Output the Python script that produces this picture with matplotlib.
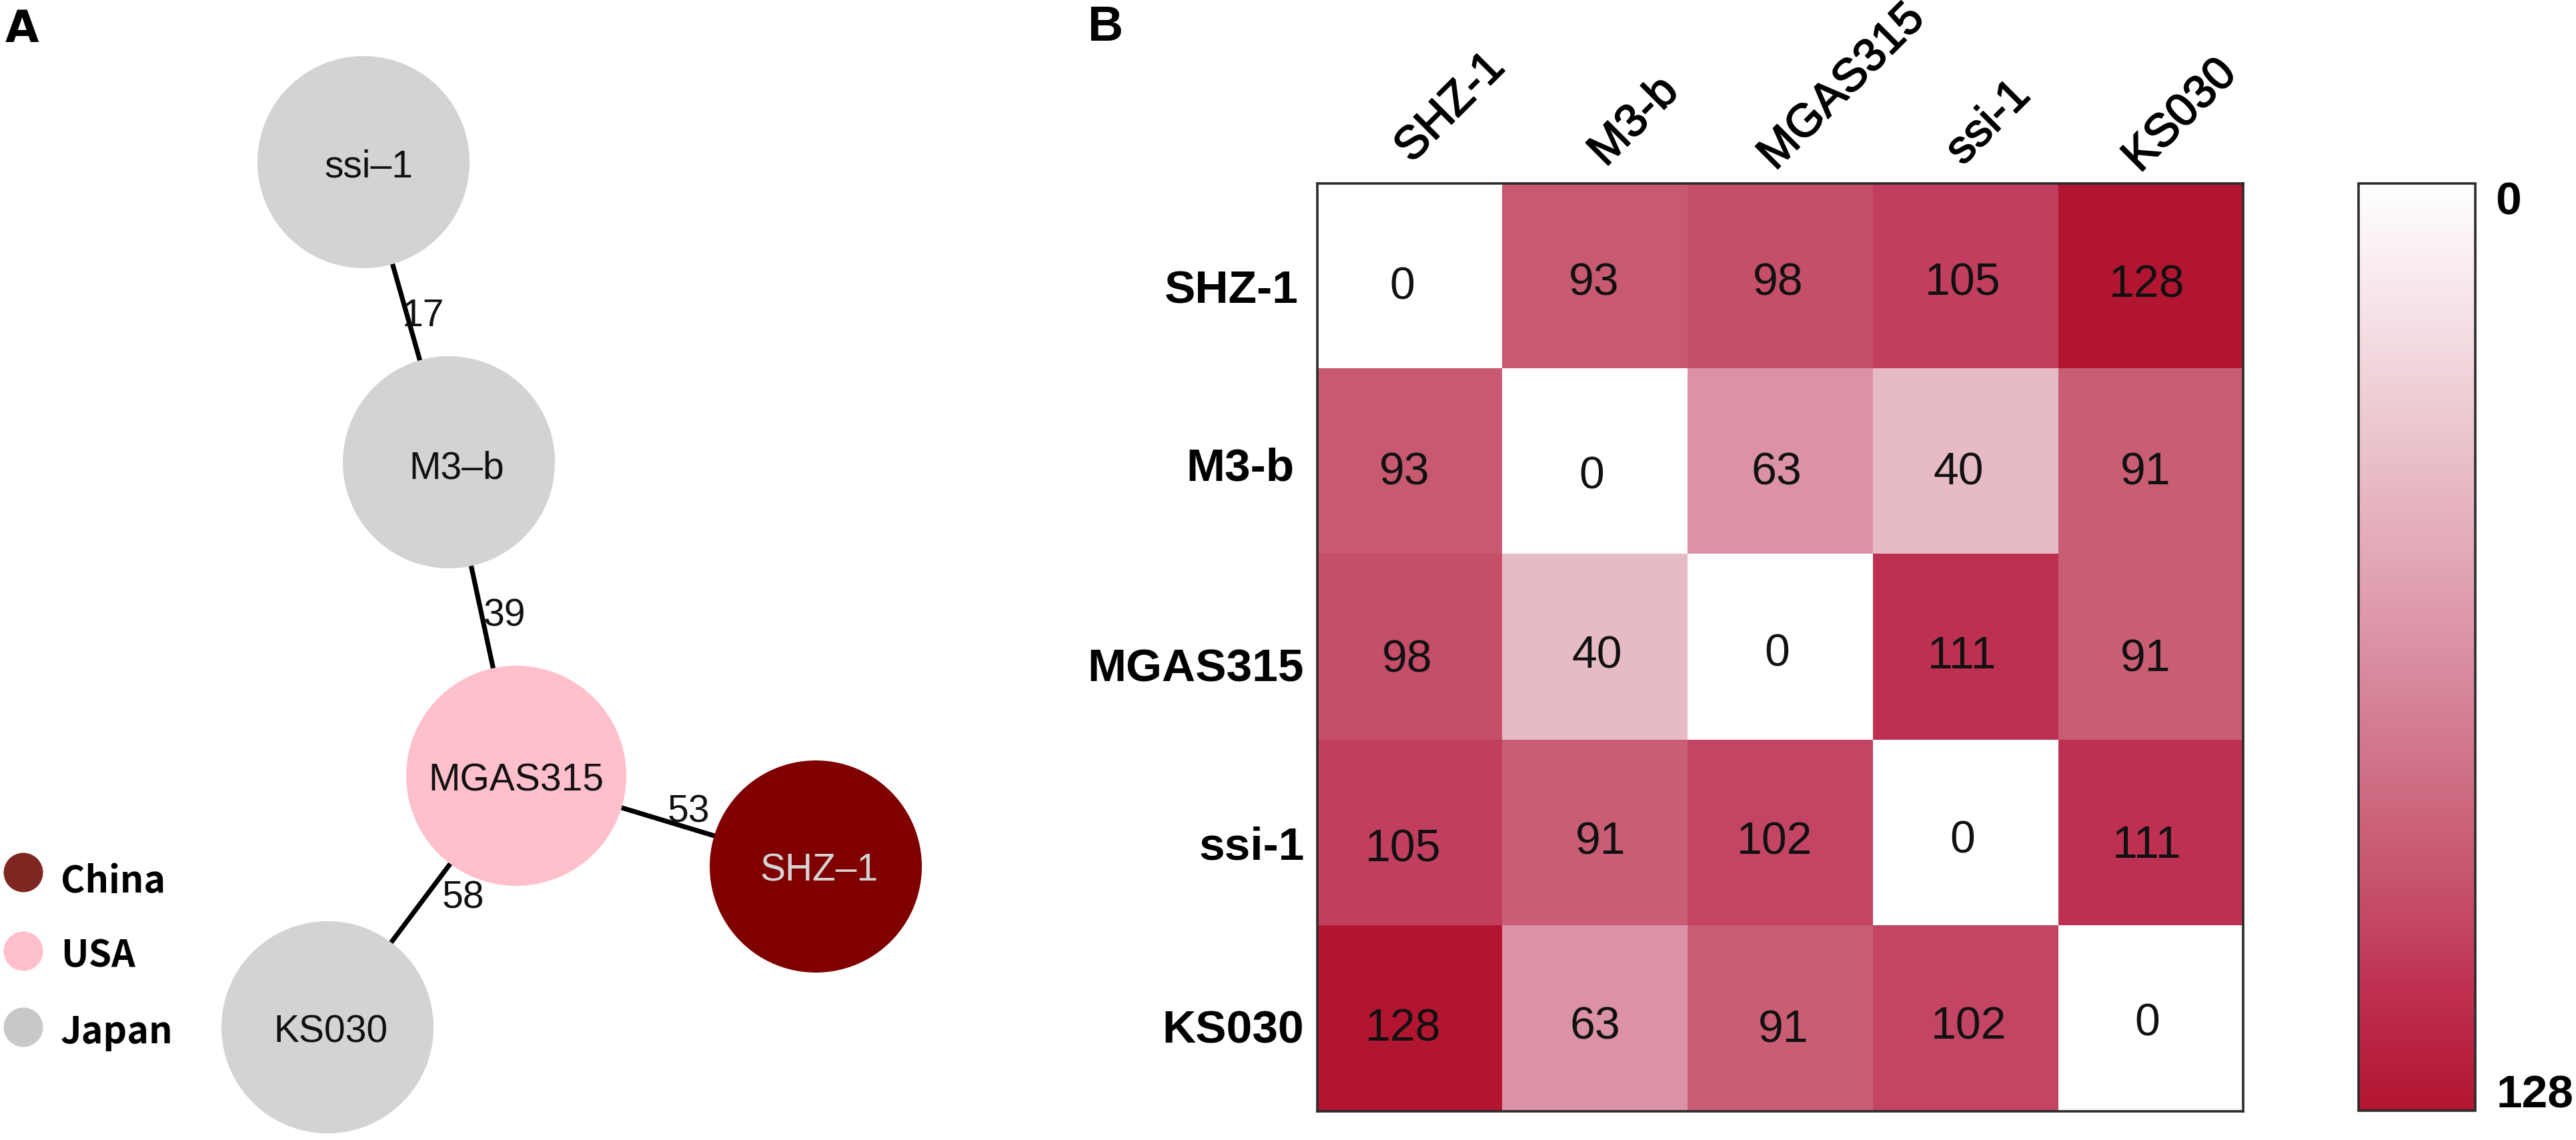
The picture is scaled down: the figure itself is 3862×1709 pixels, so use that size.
import matplotlib

matplotlib.use("Agg")

import matplotlib.patheffects as pe
import matplotlib.pyplot as plt
import numpy as np
from matplotlib.cm import ScalarMappable
from matplotlib.colors import LinearSegmentedColormap, Normalize
from matplotlib.patches import Circle

W, H = 3862, 1709

# panel A: network, node positions in image pixels
NODE_NAMES = ["ssi\u20131", "M3\u2013b", "MGAS315", "SHZ\u20131", "KS030"]
NODE_X = [545, 673, 774, 1223, 491]
NODE_Y = [243, 693, 1163, 1299, 1540]
NODE_R = [159, 159, 165, 159, 159]
NODE_COLORS = ["#d3d3d3", "#d3d3d3", "#ffc0cb", "#800000", "#d3d3d3"]
NODE_TEXT_COLORS = ["#111111", "#111111", "#111111", "#d3d3d3", "#111111"]
NODE_TEXT_DX = [8, 12, 0, 5, 5]
NODE_TEXT_DY = [7, 9, 7, 6, 7]

EDGE_FROM = [0, 1, 2, 2]
EDGE_TO = [1, 2, 3, 4]
EDGE_WEIGHTS = [17, 39, 53, 58]
EDGE_TEXT_DX = [25, 33, 34, 62]
EDGE_TEXT_DY = [6, -5, -14, -5]

LEGEND_NAMES = ["China", "USA", "Japan"]
LEGEND_COLORS = ["#7d2622", "#ffc0cb", "#c8c8c8"]
LEGEND_Y = [1308, 1426, 1540]
LEGEND_TEXT_Y = [1322, 1433, 1548]

# panel B: heatmap
STRAINS = ["SHZ-1", "M3-b", "MGAS315", "ssi-1", "KS030"]
DISTANCES = [
    [0, 93, 98, 105, 128],
    [93, 0, 63, 40, 91],
    [98, 40, 0, 111, 91],
    [105, 91, 102, 0, 111],
    [128, 63, 91, 102, 0],
]
VMIN, VMAX = 0, 128
COLOR_STOPS = [
    (0.0, "#ffffff"),
    (0.3125, "#e8bcc6"),
    (0.49, "#dc93a7"),
    (0.727, "#c85a71"),
    (0.82, "#c24060"),
    (0.867, "#bf3152"),
    (1.0, "#b2152f"),
]

# the numbers were placed by hand in the original, so they sit a bit off centre
CELL_TEXT_DX = [
    [-12, -2, -3, -4, -6],
    [-8, -5, -6, -10, -8],
    [-4, 3, -5, -5, -8],
    [-10, 8, -8, -4, -6],
    [-10, 0, 5, 5, -5],
]
CELL_TEXT_DY = [
    [11, 5, 5, 5, 8],
    [11, 17, 11, 11, 11],
    [14, 8, 5, 8, 13],
    [20, 9, 9, 7, 14],
    [11, 8, 13, 8, 3],
]
CELL_TEXT_SHIFT = 5
ROW_LABEL_DX = [-28, -35, -20, -19, -20]
ROW_LABEL_DY = [22, 10, 33, 22, 19]
COL_LABEL_DX = [61, 59, 93, 35, 45]
COL_LABEL_DY = [113, 92, 144, 90, 101]

SANS = "Liberation Sans"
CJK = "Noto Sans CJK SC"
FRAME_COLOR = "#2b2b2b"


def px_rect(left, top, right, bottom):
    return [left / W, 1 - bottom / H, (right - left) / W, (bottom - top) / H]


def draw_network(ax):
    ax.set_xlim(0, W)
    ax.set_ylim(H, 0)
    ax.axis("off")
    for a, b, weight, dx, dy in zip(EDGE_FROM, EDGE_TO, EDGE_WEIGHTS, EDGE_TEXT_DX, EDGE_TEXT_DY):
        xs = [NODE_X[a], NODE_X[b]]
        ys = [NODE_Y[a], NODE_Y[b]]
        ax.plot(xs, ys, color="black", lw=5.2, zorder=1, solid_capstyle="butt")
        ax.text(
            sum(xs) / 2 + dx, sum(ys) / 2 + dy, str(weight),
            family=SANS, fontsize=41, color="#111111", ha="center", va="center", zorder=3,
        )
    for i, name in enumerate(NODE_NAMES):
        ax.add_patch(Circle((NODE_X[i], NODE_Y[i]), NODE_R[i], color=NODE_COLORS[i], lw=0, zorder=2))
        ax.text(
            NODE_X[i] + NODE_TEXT_DX[i], NODE_Y[i] + NODE_TEXT_DY[i], name,
            family=SANS, fontsize=41, color=NODE_TEXT_COLORS[i], ha="center", va="center", zorder=3,
        )
    for name, color, y, text_y in zip(LEGEND_NAMES, LEGEND_COLORS, LEGEND_Y, LEGEND_TEXT_Y):
        ax.add_patch(Circle((35, y), 29.5, color=color, lw=0))
        ax.text(91, text_y, name, family=CJK, weight="bold", fontsize=40, ha="left", va="center")
    ax.text(8, 45, "A", family="DejaVu Sans", weight="bold", fontsize=47, ha="left", va="center")
    ax.text(1630, 41, "B", family=SANS, weight="bold", fontsize=53, ha="left", va="center")


def draw_heatmap(ax, cmap, norm):
    values = np.array(DISTANCES)
    ax.imshow(values, cmap=cmap, norm=norm, aspect="auto", interpolation="nearest")
    ax.set_xticks([])
    ax.set_yticks([])
    for spine in ax.spines.values():
        spine.set_color(FRAME_COLOR)
        spine.set_linewidth(2.6)
    for row in range(values.shape[0]):
        for col in range(values.shape[1]):
            ax.annotate(
                str(values[row, col]), (col, row),
                xytext=(CELL_TEXT_DX[row][col], -CELL_TEXT_DY[row][col] - CELL_TEXT_SHIFT),
                textcoords="offset pixels",
                family=SANS, fontsize=49, color="#111111", ha="center", va="center",
            )
    for i, name in enumerate(STRAINS):
        ax.annotate(
            name, (0, i), xycoords=("axes fraction", "data"),
            xytext=(ROW_LABEL_DX[i], -ROW_LABEL_DY[i]), textcoords="offset pixels",
            family=SANS, weight="bold", fontsize=50, ha="right", va="center",
        )
        ax.annotate(
            name, (i, 1), xycoords=("data", "axes fraction"),
            xytext=(COL_LABEL_DX[i], COL_LABEL_DY[i]), textcoords="offset pixels",
            family=SANS, fontsize=50, rotation=45, ha="center", va="center",
            path_effects=[pe.withStroke(linewidth=1.3, foreground="black")],
        )


def draw_colorbar(fig, cax, cmap, norm):
    cbar = fig.colorbar(ScalarMappable(norm=norm, cmap=cmap), cax=cax)
    cax.invert_yaxis()
    cbar.set_ticks([])
    cbar.outline.set_edgecolor(FRAME_COLOR)
    cbar.outline.set_linewidth(2.6)
    cax.annotate(
        str(VMIN), (1, VMIN), xycoords=("axes fraction", "data"),
        xytext=(30, 4), textcoords="offset pixels",
        family=SANS, weight="bold", fontsize=50, ha="left", va="top",
    )
    cax.annotate(
        str(VMAX), (1, VMAX), xycoords=("axes fraction", "data"),
        xytext=(32, 5), textcoords="offset pixels",
        family=SANS, weight="bold", fontsize=50, ha="left", va="baseline",
    )


def main():
    fig = plt.figure(figsize=((W + 0.01) / 100, (H + 0.01) / 100), dpi=100, facecolor="white")
    cmap = LinearSegmentedColormap.from_list("white_crimson", COLOR_STOPS)
    norm = Normalize(VMIN, VMAX)

    draw_network(fig.add_axes([0, 0, 1, 1]))
    draw_heatmap(fig.add_axes(px_rect(1975, 275, 3363, 1666)), cmap, norm)
    draw_colorbar(fig, fig.add_axes(px_rect(3536, 275, 3711, 1665)), cmap, norm)

    fig.savefig("out.png", dpi=100)
    plt.close(fig)


main()
